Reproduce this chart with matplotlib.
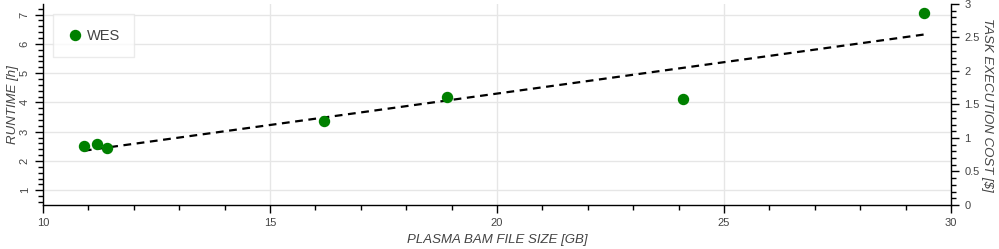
import numpy as np
import matplotlib.pyplot as plt
from matplotlib.ticker import MultipleLocator

plt.rcParams['font.family'] = ['Liberation Sans', 'DejaVu Sans']

# data
file_size = [10.9, 11.2, 11.4, 16.2, 18.9, 24.1, 29.4]   # GB
runtime = [2.51, 2.57, 2.46, 3.37, 4.19, 4.12, 7.05]     # hours
label = 'WES'

# linear trend through the points
k, b = np.polyfit(file_size, runtime, 1)
xs = np.array([min(file_size), max(file_size)])

fig = plt.figure(figsize=(9.99, 2.49), dpi=100)
ax = fig.add_axes([0.043, 0.177, 0.909, 0.807])

ax.plot(file_size, runtime, 'o', color='#008000', markersize=7.2, label=label, zorder=3)
ax.plot(xs, k * xs + b, '--', color='black', lw=1.6, dashes=(3.5, 2.5), zorder=2)

ax.set_xlim(10, 30)
ax.set_ylim(0.5, 7.36)
ax.xaxis.set_major_locator(MultipleLocator(5))
ax.xaxis.set_minor_locator(MultipleLocator(1))
ax.yaxis.set_major_locator(MultipleLocator(1))
ax.yaxis.set_minor_locator(MultipleLocator(0.2))
ax.grid(True, which='major', color='#e6e6e6', lw=1)
ax.set_axisbelow(True)

for side in ['top', 'right']:
    ax.spines[side].set_visible(False)
for side in ['left', 'bottom']:
    ax.spines[side].set_linewidth(1)

ax.tick_params(which='major', length=6, width=1, direction='out', labelsize=8, labelcolor='#444444')
ax.tick_params(which='minor', length=3.5, width=1, direction='out')
for lbl in ax.get_yticklabels():
    lbl.set_rotation(90)
    lbl.set_va('center')

ax.set_xlabel('PLASMA BAM FILE SIZE [GB]', fontsize=9.5, style='italic', color='#444444', labelpad=4)
ax.set_ylabel('RUNTIME [h]', fontsize=9.5, style='italic', color='#444444', va='center')
ax.yaxis.set_label_coords(-0.033, 0.5)

# secondary axis for the cost
ax2 = ax.twinx()
ax2.set_ylim(0, 3)
ax2.yaxis.set_major_locator(MultipleLocator(0.5))
ax2.yaxis.set_minor_locator(MultipleLocator(0.1))
ax2.set_yticks([0, 0.5, 1, 1.5, 2, 2.5, 3])
ax2.set_yticklabels(['0', '0.5', '1', '1.5', '2', '2.5', '3'])
for side in ['top', 'left', 'bottom']:
    ax2.spines[side].set_visible(False)
ax2.spines['right'].set_linewidth(1)
ax2.tick_params(which='major', length=6, width=1, labelsize=8, labelcolor='#444444')
ax2.tick_params(which='minor', length=3.5, width=1)
ax2.set_ylabel('TASK EXECUTION COST [$]', fontsize=9.5, style='italic', color='#444444',
               rotation=270, va='center')
ax2.yaxis.set_label_coords(1.04, 0.5)

leg = ax.legend(loc='upper left', bbox_to_anchor=(0.011, 0.95), fontsize=10.5, frameon=True,
                fancybox=False, edgecolor='#e6e6e6', borderpad=1.0, handletextpad=0.3,
                handlelength=1.0, borderaxespad=0)
for t in leg.get_texts():
    t.set_color('#444444')

fig.savefig('out.png', dpi=100)
